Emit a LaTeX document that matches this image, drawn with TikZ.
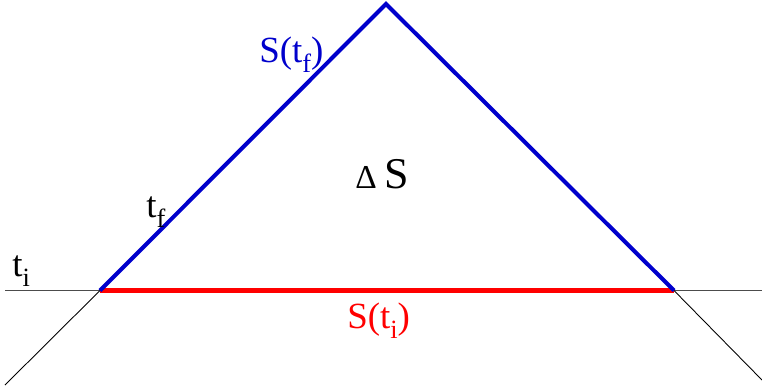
\documentclass[tikz,border=0pt]{standalone}
\usepackage{fontspec}
\setmainfont{Liberation Serif}
\usetikzlibrary{positioning}
\definecolor{surfblue}{HTML}{0000CC}
\definecolor{surfred}{HTML}{FF0000}
\newcommand{\lowsub}[1]{\raisebox{-0.28em}{\fontsize{15}{15}\selectfont #1}}

\begin{document}
\begin{tikzpicture}[x=0.02cm, y=-0.02cm,
  thinline/.style={black, line width=0.5pt},
  axisline/.style={black!70, line width=0.9pt},
  surf/.style={surfblue, line width=2.3pt, line join=miter},
  base/.style={surfred, line width=2.8pt},
  lbl/.style={font=\rmfamily\fontsize{21}{24}\selectfont, inner sep=0pt, anchor=base west},
]
  \useasboundingbox (0,0) rectangle (762,387);

  \coordinate (l0) at (5,290.5);
  \coordinate (r0) at (762,290.5);
  \coordinate (pl) at (100,290.5);
  \coordinate (pr) at (674,290.5);
  \coordinate (top) at (386,4);
  \coordinate (ll) at (5,385);
  \coordinate (lr) at (762,380);

  \draw[axisline] (l0) -- (r0);
  \draw[thinline] (pl) -- (ll);
  \draw[thinline] (pr) -- (lr);
  \draw[base] (pl) -- (pr);
  \draw[surf] (pl) -- (top) -- (pr);

  \node[lbl, surfblue] (sf) at (259,62) {S(t\lowsub{f})};
  \node[lbl, font=\rmfamily\fontsize{25}{28}\selectfont] (ds) at (355,188) {{\fontsize{19}{22}\selectfont Δ}\,S};
  \node[lbl] (tf) at (146,217) {t\lowsub{f}};
  \node[lbl] (ti) at (12,276) {t\lowsub{i}};
  \node[lbl, surfred] (si) at (347,328) {S(t\lowsub{i})};
\end{tikzpicture}
\end{document}
